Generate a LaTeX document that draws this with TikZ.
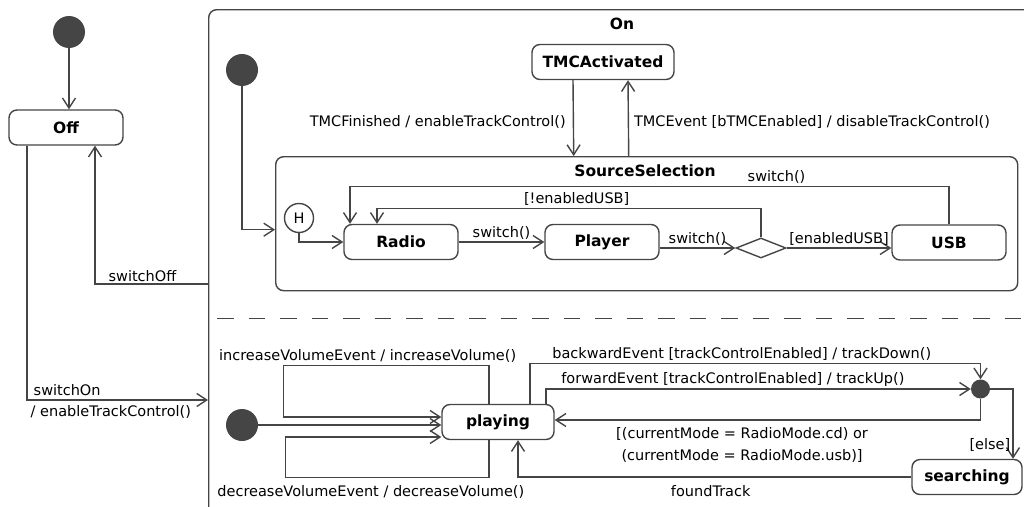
\documentclass[tikz,border=0pt]{standalone}
\usepackage{fontspec}
\setmainfont{DejaVu Sans}
\usepackage{tikz}
\usetikzlibrary{arrows.meta,shapes.geometric}
\definecolor{lineGray}{HTML}{454545}

\begin{document}
\begin{tikzpicture}[x=1pt,y=-1pt,font=\fontsize{14.5}{22}\selectfont]
\tikzstyle{state}=[draw=lineGray,line width=1.4pt,rounded corners=8pt,minimum height=35pt,inner sep=0pt,font=\fontsize{15.5}{22}\selectfont\bfseries]
\tikzstyle{init}=[circle,fill=lineGray,minimum size=32pt,inner sep=0pt]
\tikzstyle{trans}=[draw=lineGray,line width=1.4pt,-{Straight Barb[length=10pt,width=13pt]}]
\tikzstyle{lbl}=[inner sep=2pt]
\clip (0,0) rectangle (1024,506);
% containers
\node[state,minimum width=862pt,minimum height=551pt,anchor=north west] (on) at (208,9) {};
\node[font=\fontsize{15.5}{22}\selectfont\bfseries] (onTitle) at (622,24) {On};
\node[state,minimum width=742pt,minimum height=134pt,anchor=north west] (src) at (275,156) {};
\node[font=\fontsize{15.5}{22}\selectfont\bfseries] (srcTitle) at (645,171) {SourceSelection};
\draw[lineGray,line width=1.4pt,dash pattern=on 16.5pt off 15pt] (217,318.5) -- (1024,318.5);
% states
\foreach \name/\point/\w/\txt in {
	off/{66,127.5}/114/Off,
	tmc/{603,62}/142/TMCActivated,
	radio/{401,242}/114/Radio,
	player/{602,242}/114/Player,
	usb/{949,242.5}/114/USB,
	playing/{498,422}/112/playing,
	searching/{967,477}/110/searching}
	\node[state,minimum width=\w pt] (\name) at (\point) {\txt};
\foreach \name/\point in {
	init0/{69,32},
	init1/{242,70},
	init2/{242,425}}
	\node[init] (\name) at (\point) {};
\node[circle,draw=lineGray,line width=1.4pt,minimum size=29pt,inner sep=0pt] (hist) at (299,218) {H};
\node[diamond,draw=lineGray,line width=1.4pt,minimum width=50pt,minimum height=20pt,inner sep=0pt] (choice) at (761,248) {};
\node[circle,fill=lineGray,minimum size=19pt,inner sep=0pt] (junc) at (980.5,389) {};
\coordinate (onOff) at (208,284);
\coordinate (onOn) at (208,400);
% top level
\draw[trans] (init0) -- (init0 |- off.north);
\draw[trans] (onOff) -| ([xshift=29pt]off.south) node[lbl,pos=0.29,above] (lSwOff) {switchOff};
\draw[trans] ([xshift=-39pt]off.south) |- (onOn) node[lbl,pos=0.5,anchor=south west,xshift=4pt,yshift=2pt] (lSwOn) {switchOn} node[lbl,pos=0.5,anchor=north west,xshift=1pt,yshift=-3pt] (lSwOnAct) {/ enableTrackControl()};
% region 1
\draw[trans] (init1) |- ([yshift=-6pt]src.west);
\draw[trans] ([xshift=-30pt]tmc.south) -- ([xshift=-73pt]src.north) node[lbl,midway,left,xshift=-5pt,yshift=-4pt] (lTmcFin) {TMCFinished / enableTrackControl()};
\draw[trans] ([xshift=-18pt]src.north) -- ([xshift=25pt]tmc.south) node[lbl,midway,right,xshift=3pt,yshift=-4pt] (lTmcEv) {TMCEvent [bTMCEnabled] / disableTrackControl()};
\draw[trans] (hist) |- (radio);
\draw[trans] (radio) -- (player) node[lbl,midway,above] (lSw1) {switch()};
\draw[trans] (player.east |- choice) -- (choice) node[lbl,midway,above] (lSw2) {switch()};
\draw[trans] (choice) -- (choice -| usb.west) node[lbl,midway,above] (lEn) {[enabledUSB]};
\draw[trans] (usb.north) -- ++(0,-38) -| ([xshift=-51pt]radio.north) node[lbl,pos=0.144,above] (lSw3) {switch()};
\draw[trans] (choice.north) -- ++(0,-29) -| ([xshift=-24pt]radio.north) node[lbl,pos=0.24,above] (lNotEn) {[!enabledUSB]};
% region 2
\draw[trans] (init2) -- (init2 -| playing.west);
\draw[trans] ([xshift=-9pt]playing.north) -- ++(0,-38.5) -| ([xshift=-158pt,yshift=5pt]playing.west) node[lbl,pos=0.295,above] (lInc) {increaseVolumeEvent / increaseVolume()} -- ([yshift=5pt]playing.west);
\draw[trans] ([xshift=-9pt]playing.south) -- ++(0,37.5) -| ([xshift=-156pt,yshift=-15pt]playing.west) node[lbl,pos=0.29,below,yshift=-5pt] (lDec) {decreaseVolumeEvent / decreaseVolume()} -- ([yshift=-15pt]playing.west);
\draw[trans] ([xshift=32pt]playing.north) -- ++(0,-40.5) -| (junc) node[lbl,pos=0.235,above] (lBack) {backwardEvent [trackControlEnabled] / trackDown()};
\draw[trans] ([xshift=48pt]playing.north) |- (junc) node[lbl,pos=0.72,above] (lFwd) {forwardEvent [trackControlEnabled] / trackUp()};
\draw[trans] (junc) |- ([yshift=2pt]playing.east) node[lbl,pos=0.78,below,align=center,yshift=-5pt] (lMode) {[(currentMode = RadioMode.cd) or\\(currentMode = RadioMode.usb)]};
\draw[trans] (junc) -| ([xshift=46pt]searching.north) node[lbl,pos=0.9,left] (lElse) {[else]};
\draw[trans] (searching.west) -| ([xshift=20pt]playing.south) node[lbl,pos=0.255,below,yshift=-6pt] (lFound) {foundTrack};
\end{tikzpicture}
\end{document}
